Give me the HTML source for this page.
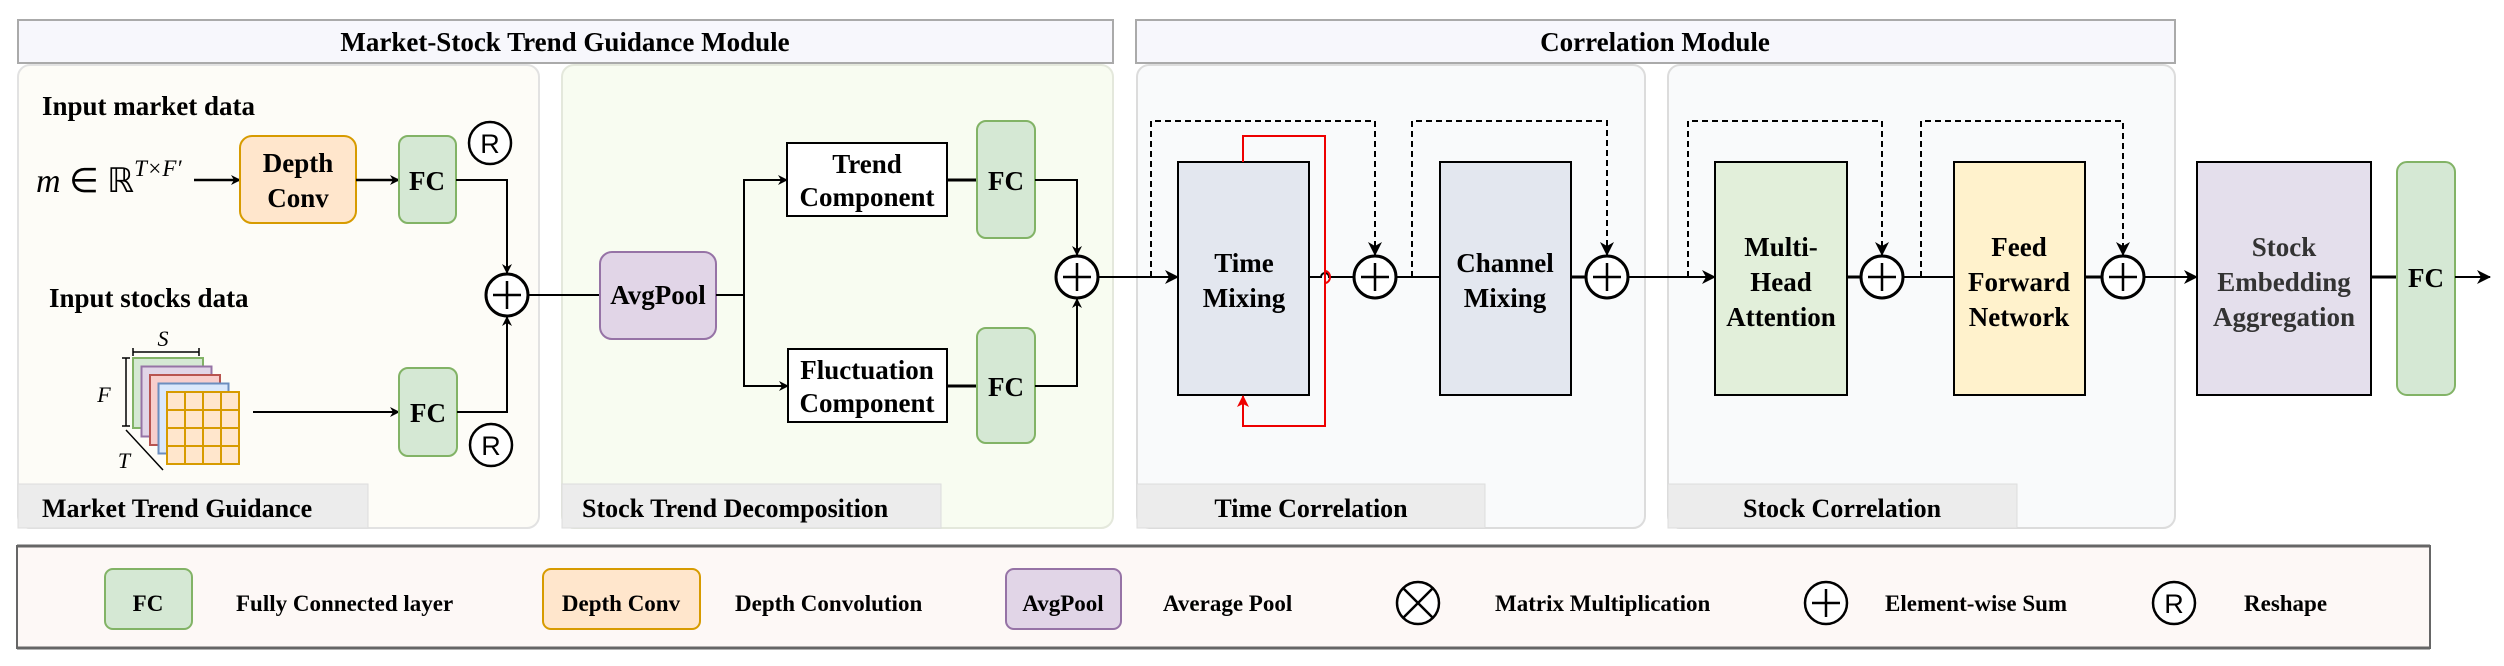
<!DOCTYPE html>
<html><head><meta charset="utf-8"><style>
html,body{margin:0;padding:0;background:#fff;}
svg{display:block;}
text{font-family:"Liberation Serif",serif;font-weight:bold;fill:#000;}
</style></head><body>
<svg width="2504" height="666" viewBox="0 0 2504 666" xmlns="http://www.w3.org/2000/svg">
<defs>
<marker id="a" markerWidth="10" markerHeight="10" refX="9" refY="5" orient="auto" markerUnits="userSpaceOnUse"><path d="M0,0 L10,5 L0,10 L3,5 z" fill="#000"/></marker>
<marker id="ar" markerWidth="12" markerHeight="12" refX="11" refY="6" orient="auto" markerUnits="userSpaceOnUse"><path d="M0,0 L12,6 L0,12 L3,6 z" fill="#e00"/></marker>
<marker id="a2" markerWidth="14" markerHeight="14" refX="13" refY="7" orient="auto" markerUnits="userSpaceOnUse"><path d="M0,0 L14,7 L0,14 L4,7 z" fill="#000"/></marker>
</defs>

<!-- Headers -->
<rect x="18" y="20" width="1095" height="43" fill="#f7f7fc" stroke="#aaa" stroke-width="2"/>
<text x="565" y="51" font-size="27" text-anchor="middle">Market-Stock Trend Guidance Module</text>
<rect x="1136" y="20" width="1039" height="43" fill="#f7f7fc" stroke="#aaa" stroke-width="2"/>
<text x="1655" y="51" font-size="27" text-anchor="middle">Correlation Module</text>

<!-- Panels -->
<rect x="18" y="65" width="521" height="463" rx="12" fill="#fdfcf7" stroke="#e2e2e2" stroke-width="2"/>
<rect x="18" y="484" width="350" height="44" fill="#ececec" stroke="#ddd"/>
<text x="42" y="517" font-size="26">Market Trend Guidance</text>
<rect x="562" y="65" width="551" height="463" rx="12" fill="#f8fcf1" stroke="#e4e8dc" stroke-width="2"/>
<rect x="562" y="484" width="379" height="44" fill="#ececec" stroke="#ddd"/>
<text x="582" y="517" font-size="26">Stock Trend Decomposition</text>
<rect x="1137" y="65" width="508" height="463" rx="12" fill="#f9fafb" stroke="#dcdcdc" stroke-width="2"/>
<rect x="1137" y="484" width="348" height="44" fill="#ececec" stroke="#ddd"/>
<text x="1311" y="517" font-size="26" text-anchor="middle">Time Correlation</text>
<rect x="1668" y="65" width="507" height="463" rx="12" fill="#f9fafb" stroke="#dcdcdc" stroke-width="2"/>
<rect x="1668" y="484" width="349" height="44" fill="#ececec" stroke="#ddd"/>
<text x="1842" y="517" font-size="26" text-anchor="middle">Stock Correlation</text>

<!-- Market part -->
<text x="42" y="115" font-size="27">Input market data</text>
<text x="36" y="192" font-size="34" font-style="italic" style="font-weight:normal">m <tspan font-style="normal">∈ ℝ</tspan><tspan font-size="23" dy="-16">T×F′</tspan></text>
<line x1="194" y1="180" x2="240" y2="180" stroke="#000" stroke-width="2.5" marker-end="url(#a)"/>
<rect x="240" y="136" width="116" height="87" rx="12" fill="#ffe6cc" stroke="#d79b00" stroke-width="2"/>
<text x="298" y="172" font-size="27" text-anchor="middle">Depth</text>
<text x="298" y="207" font-size="27" text-anchor="middle">Conv</text>
<line x1="356" y1="180" x2="399" y2="180" stroke="#000" stroke-width="2.5" marker-end="url(#a)"/>
<rect x="399" y="136" width="57" height="87" rx="9" fill="#d5e8d4" stroke="#82b366" stroke-width="2"/>
<text x="427" y="190" font-size="27" text-anchor="middle">FC</text>
<circle cx="490" cy="143" r="21" fill="#fff" stroke="#000" stroke-width="2.5"/>
<text x="490" y="153" font-size="27" style="font-family:'Liberation Sans',sans-serif;font-weight:normal" text-anchor="middle">R</text>
<polyline points="456,180 507,180 507,273" fill="none" stroke="#000" stroke-width="2" marker-end="url(#a)"/>
<circle cx="507" cy="295" r="21" fill="#fff" stroke="#000" stroke-width="3"/>
<path d="M493,295 H521 M507,281 V309" stroke="#000" stroke-width="2.5"/>

<text x="49" y="307" font-size="27">Input stocks data</text>
<!-- cube -->
<text x="163" y="346" font-size="22" font-style="italic" style="font-weight:normal" text-anchor="middle">S</text>
<path d="M133,352 H199 M133,348 V356 M199,348 V356" stroke="#000" stroke-width="1.5"/>
<path d="M126,358 V426 M122,358 H130 M122,426 H130" stroke="#000" stroke-width="1.5"/>
<text x="104" y="402" font-size="22" font-style="italic" style="font-weight:normal" text-anchor="middle">F</text>
<path d="M126,430 L163,470" stroke="#000" stroke-width="1.5"/>
<text x="124" y="468" font-size="22" font-style="italic" style="font-weight:normal" text-anchor="middle">T</text>
<g stroke-width="2">
<rect x="133" y="358" width="70" height="70" fill="#d5e8d4" stroke="#82b366"/>
<rect x="141.5" y="366.5" width="70" height="70" fill="#e1d5e7" stroke="#9673a6"/>
<rect x="150" y="375" width="70" height="70" fill="#f8cecc" stroke="#b85450"/>
<rect x="158.5" y="383.5" width="70" height="70" fill="#dae8fc" stroke="#6c8ebf"/>
<rect x="167" y="392" width="72" height="72" fill="#ffe6cc" stroke="#d79b00"/>
<path d="M185,392 V464 M203,392 V464 M221,392 V464 M167,410 H239 M167,428 H239 M167,446 H239" stroke="#d79b00"/>
</g>
<line x1="253" y1="412" x2="399" y2="412" stroke="#000" stroke-width="2" marker-end="url(#a)"/>
<rect x="399" y="368" width="58" height="88" rx="9" fill="#d5e8d4" stroke="#82b366" stroke-width="2"/>
<text x="428" y="422" font-size="27" text-anchor="middle">FC</text>
<polyline points="457,412 507,412 507,317" fill="none" stroke="#000" stroke-width="2" marker-end="url(#a)"/>
<circle cx="491" cy="445" r="21" fill="#fff" stroke="#000" stroke-width="2.5"/>
<text x="491" y="455" font-size="27" style="font-family:'Liberation Sans',sans-serif;font-weight:normal" text-anchor="middle">R</text>

<!-- Decomposition -->
<line x1="528" y1="295" x2="600" y2="295" stroke="#000" stroke-width="2"/>
<rect x="600" y="252" width="116" height="87" rx="12" fill="#e1d5e7" stroke="#9673a6" stroke-width="2"/>
<text x="658" y="304" font-size="27" text-anchor="middle">AvgPool</text>
<polyline points="716,295 744,295" fill="none" stroke="#000" stroke-width="2"/>
<polyline points="744,386 744,180 787,180" fill="none" stroke="#000" stroke-width="2" marker-end="url(#a)"/>
<polyline points="744,380 744,386 788,386" fill="none" stroke="#000" stroke-width="2" marker-end="url(#a)"/>
<rect x="787" y="143" width="160" height="73" fill="#fff" stroke="#000" stroke-width="2"/>
<text x="867" y="173" font-size="27" text-anchor="middle">Trend</text>
<text x="867" y="206" font-size="27" text-anchor="middle">Component</text>
<rect x="788" y="349" width="159" height="73" fill="#fff" stroke="#000" stroke-width="2"/>
<text x="867" y="379" font-size="27" text-anchor="middle">Fluctuation</text>
<text x="867" y="412" font-size="27" text-anchor="middle">Component</text>
<line x1="947" y1="180" x2="977" y2="180" stroke="#000" stroke-width="3"/>
<line x1="947" y1="386" x2="977" y2="386" stroke="#000" stroke-width="3"/>
<rect x="977" y="121" width="58" height="117" rx="9" fill="#d5e8d4" stroke="#82b366" stroke-width="2"/>
<text x="1006" y="190" font-size="27" text-anchor="middle">FC</text>
<rect x="977" y="328" width="58" height="115" rx="9" fill="#d5e8d4" stroke="#82b366" stroke-width="2"/>
<text x="1006" y="396" font-size="27" text-anchor="middle">FC</text>
<polyline points="1035,180 1077,180 1077,255" fill="none" stroke="#000" stroke-width="2" marker-end="url(#a)"/>
<polyline points="1035,386 1077,386 1077,299" fill="none" stroke="#000" stroke-width="2" marker-end="url(#a)"/>
<circle cx="1077" cy="277" r="21" fill="#fff" stroke="#000" stroke-width="3"/>
<path d="M1063,277 H1091 M1077,263 V291" stroke="#000" stroke-width="2.5"/>

<!-- Time correlation -->
<line x1="1098" y1="277" x2="1178" y2="277" stroke="#000" stroke-width="2" marker-end="url(#a2)"/>
<polyline points="1151,277 1151,121 1375,121 1375,255" fill="none" stroke="#000" stroke-width="2" stroke-dasharray="6,4" marker-end="url(#a2)"/>
<rect x="1178" y="162" width="131" height="233" fill="#e3e7ef" stroke="#000" stroke-width="2"/>
<text x="1244" y="272" font-size="27" text-anchor="middle">Time</text>
<text x="1244" y="307" font-size="27" text-anchor="middle">Mixing</text>
<path d="M1309,277 H1321 A4,4 0 0 1 1329,277 H1354" fill="none" stroke="#000" stroke-width="2"/>
<polyline points="1243,162 1243,136 1325,136 1325,426 1243,426 1243,396" fill="none" stroke="#e00" stroke-width="2" marker-end="url(#ar)"/>
<path d="M1325,271 A5,6 0 0 1 1325,283" fill="none" stroke="#e00" stroke-width="2"/>
<circle cx="1375" cy="277" r="21" fill="#fff" stroke="#000" stroke-width="3"/>
<path d="M1361,277 H1389 M1375,263 V291" stroke="#000" stroke-width="2.5"/>
<line x1="1396" y1="277" x2="1440" y2="277" stroke="#000" stroke-width="2"/>
<polyline points="1412,277 1412,121 1607,121 1607,255" fill="none" stroke="#000" stroke-width="2" stroke-dasharray="6,4" marker-end="url(#a2)"/>
<rect x="1440" y="162" width="131" height="233" fill="#e3e7ef" stroke="#000" stroke-width="2"/>
<text x="1505" y="272" font-size="27" text-anchor="middle">Channel</text>
<text x="1505" y="307" font-size="27" text-anchor="middle">Mixing</text>
<line x1="1571" y1="277" x2="1586" y2="277" stroke="#000" stroke-width="3"/>
<circle cx="1607" cy="277" r="21" fill="#fff" stroke="#000" stroke-width="3"/>
<path d="M1593,277 H1621 M1607,263 V291" stroke="#000" stroke-width="2.5"/>

<!-- Stock correlation -->
<line x1="1628" y1="277" x2="1715" y2="277" stroke="#000" stroke-width="2" marker-end="url(#a2)"/>
<polyline points="1688,277 1688,121 1882,121 1882,255" fill="none" stroke="#000" stroke-width="2" stroke-dasharray="6,4" marker-end="url(#a2)"/>
<rect x="1715" y="162" width="132" height="233" fill="#e2efda" stroke="#000" stroke-width="2"/>
<text x="1781" y="256" font-size="27" text-anchor="middle">Multi-</text>
<text x="1781" y="291" font-size="27" text-anchor="middle">Head</text>
<text x="1781" y="326" font-size="27" text-anchor="middle">Attention</text>
<line x1="1847" y1="277" x2="1861" y2="277" stroke="#000" stroke-width="3"/>
<circle cx="1882" cy="277" r="21" fill="#fff" stroke="#000" stroke-width="3"/>
<path d="M1868,277 H1896 M1882,263 V291" stroke="#000" stroke-width="2.5"/>
<line x1="1903" y1="277" x2="1954" y2="277" stroke="#000" stroke-width="2"/>
<polyline points="1921,277 1921,121 2123,121 2123,255" fill="none" stroke="#000" stroke-width="2" stroke-dasharray="6,4" marker-end="url(#a2)"/>
<rect x="1954" y="162" width="131" height="233" fill="#fff2cc" stroke="#000" stroke-width="2"/>
<text x="2019" y="256" font-size="27" text-anchor="middle">Feed</text>
<text x="2019" y="291" font-size="27" text-anchor="middle">Forward</text>
<text x="2019" y="326" font-size="27" text-anchor="middle">Network</text>
<line x1="2085" y1="277" x2="2102" y2="277" stroke="#000" stroke-width="3"/>
<circle cx="2123" cy="277" r="21" fill="#fff" stroke="#000" stroke-width="3"/>
<path d="M2109,277 H2137 M2123,263 V291" stroke="#000" stroke-width="2.5"/>
<line x1="2144" y1="277" x2="2197" y2="277" stroke="#000" stroke-width="2" marker-end="url(#a2)"/>
<rect x="2197" y="162" width="174" height="233" fill="#e4dfec" stroke="#000" stroke-width="2"/>
<text x="2284" y="256" font-size="27" text-anchor="middle" style="fill:#333">Stock</text>
<text x="2284" y="291" font-size="27" text-anchor="middle" style="fill:#333">Embedding</text>
<text x="2284" y="326" font-size="27" text-anchor="middle" style="fill:#333">Aggregation</text>
<line x1="2371" y1="277" x2="2397" y2="277" stroke="#000" stroke-width="3"/>
<rect x="2397" y="162" width="58" height="233" rx="10" fill="#d5e8d4" stroke="#82b366" stroke-width="2"/>
<text x="2426" y="287" font-size="27" text-anchor="middle">FC</text>
<line x1="2455" y1="277" x2="2490" y2="277" stroke="#000" stroke-width="2" marker-end="url(#a2)"/>

<!-- Legend -->
<rect x="17" y="546" width="2413" height="102" fill="#fdf8f6" stroke="#666" stroke-width="2"/>
<line x1="17" y1="546" x2="2430" y2="546" stroke="#666" stroke-width="3"/>
<line x1="17" y1="648" x2="2430" y2="648" stroke="#666" stroke-width="3"/>
<rect x="105" y="569" width="87" height="60" rx="8" fill="#d5e8d4" stroke="#82b366" stroke-width="2"/>
<text x="148" y="611" font-size="23" text-anchor="middle">FC</text>
<text x="236" y="611" font-size="23">Fully Connected layer</text>
<rect x="543" y="569" width="157" height="60" rx="8" fill="#ffe6cc" stroke="#d79b00" stroke-width="2"/>
<text x="621" y="611" font-size="23" text-anchor="middle">Depth Conv</text>
<text x="735" y="611" font-size="23">Depth Convolution</text>
<rect x="1006" y="569" width="115" height="60" rx="8" fill="#e1d5e7" stroke="#9673a6" stroke-width="2"/>
<text x="1063" y="611" font-size="23" text-anchor="middle">AvgPool</text>
<text x="1163" y="611" font-size="23">Average Pool</text>
<circle cx="1418" cy="603" r="21" fill="#fff" stroke="#000" stroke-width="2.5"/>
<path d="M1403,588 L1433,618 M1433,588 L1403,618" stroke="#000" stroke-width="2.5"/>
<text x="1495" y="611" font-size="23">Matrix Multiplication</text>
<circle cx="1826" cy="603" r="21" fill="#fff" stroke="#000" stroke-width="2.5"/>
<path d="M1812,603 H1840 M1826,589 V617" stroke="#000" stroke-width="2.5"/>
<text x="1885" y="611" font-size="23">Element-wise Sum</text>
<circle cx="2174" cy="603" r="21" fill="#fff" stroke="#000" stroke-width="2.5"/>
<text x="2174" y="613" font-size="27" style="font-family:'Liberation Sans',sans-serif;font-weight:normal" text-anchor="middle">R</text>
<text x="2244" y="611" font-size="23">Reshape</text>
</svg>
</body></html>
